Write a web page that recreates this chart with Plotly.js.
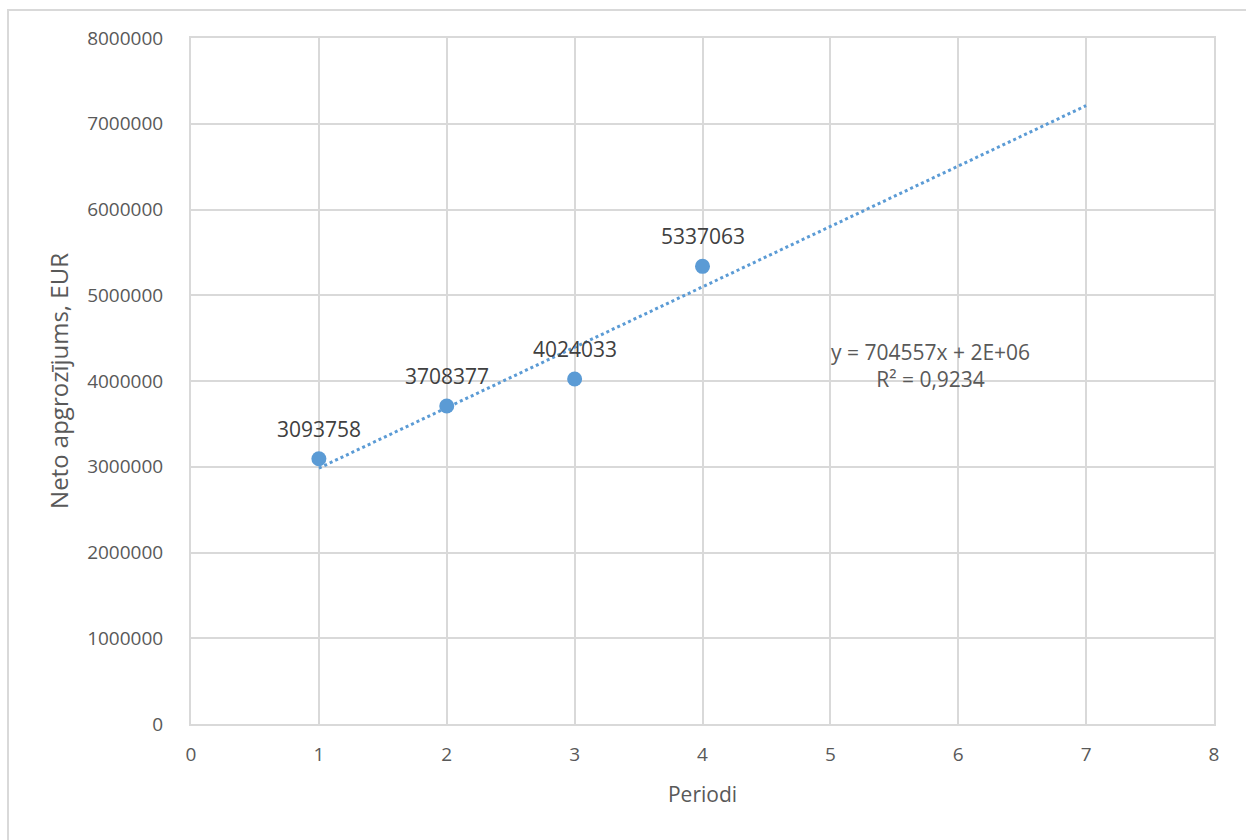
<!DOCTYPE html>
<html>
<head>
<meta charset="utf-8">
<script src="https://cdn.plot.ly/plotly-3.0.1.min.js"></script>
<style>
html,body{margin:0;padding:0;background:#fff;}
#frame{position:absolute;left:7px;top:9px;width:1250px;height:840px;border:2px solid #d9d9d9;box-sizing:border-box;pointer-events:none;}
#chart{width:1246px;height:840px;}
</style>
</head>
<body>
<div id="chart"></div>
<div id="frame"></div>
<script>
const periods = [1, 2, 3, 4];
const turnover = [3093758, 3708377, 4024033, 5337063];
const labels = ["3093758", "3708377", "4024033", "5337063"];
const trendRange = [1, 7];
const equationText = "y = 704557x + 2E+06<br>R² = 0,9234";

// least-squares trendline (as Excel's linear trendline)
const n = periods.length;
const mx = periods.reduce((a,b)=>a+b,0)/n;
const my = turnover.reduce((a,b)=>a+b,0)/n;
let sxy = 0, sxx = 0;
for (let i=0;i<n;i++){ sxy += (periods[i]-mx)*(turnover[i]-my); sxx += (periods[i]-mx)**2; }
const slope = sxy/sxx, intercept = my - slope*mx;
const trendY = trendRange.map(x => slope*x + intercept);

const blue = '#5B9BD5';
const font = '"Open Sans", "Liberation Sans", sans-serif';

const data = [
  {x: trendRange, y: trendY, mode: 'lines', type: 'scatter',
   line: {color: blue, width: 3, dash: 'dot'}, hoverinfo: 'skip', showlegend: false},
  {x: periods, y: turnover, mode: 'markers', type: 'scatter',
   marker: {color: blue, size: 15}, showlegend: false}
];

const annotations = periods.map((p,i)=>({
  x: p, y: turnover[i], xref: 'x', yref: 'y', text: labels[i], showarrow: false,
  yshift: 30, font: {family: font, size: 21, color: '#404040'}
}));
annotations.push({
  x: 5.78, y: 4180000, xref: 'x', yref: 'y', text: equationText, showarrow: false,
  align: 'center', font: {family: font, size: 21, color: '#595959'}
});

const layout = {
  width: 1246, height: 840,
  margin: {l: 191, r: 32, t: 38, b: 116},
  paper_bgcolor: '#fff', plot_bgcolor: '#fff',
  font: {family: font, color: '#595959'},
  xaxis: {
    range: [0, 8], dtick: 1, tick0: 0,
    showgrid: true, gridcolor: '#d9d9d9', gridwidth: 2,
    showline: true, linecolor: '#d9d9d9', linewidth: 2, mirror: true,
    zeroline: false, ticks: '', ticklen: 0, ticklabelstandoff: 12,
    tickfont: {family: font, size: 19, color: '#595959'},
    title: {text: 'Periodi', font: {family: font, size: 21, color: '#595959'}, standoff: 22}
  },
  yaxis: {
    range: [0, 8000000], dtick: 1000000, tickformat: 'd',
    showgrid: true, gridcolor: '#d9d9d9', gridwidth: 2,
    showline: true, linecolor: '#d9d9d9', linewidth: 2, mirror: true,
    zeroline: false, ticks: '', ticklen: 0, ticklabelstandoff: 22,
    tickfont: {family: font, size: 19, color: '#595959'},
    title: {text: 'Neto apgrozījums, EUR', font: {family: font, size: 24, color: '#595959'}, standoff: 12}
  },
  annotations: annotations
};

Plotly.newPlot('chart', data, layout, {displayModeBar: false, staticPlot: true});
</script>
</body>
</html>
